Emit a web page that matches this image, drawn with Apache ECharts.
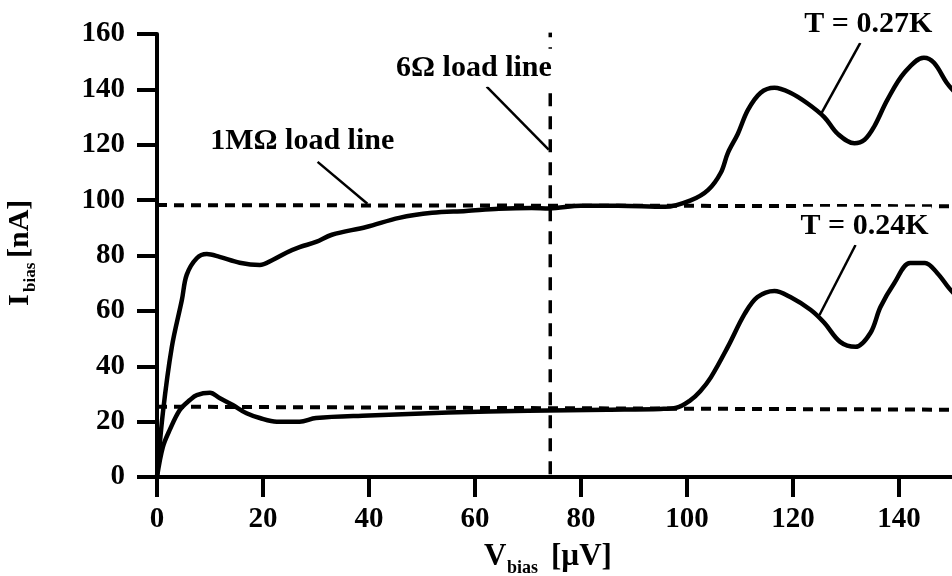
<!DOCTYPE html>
<html><head><meta charset="utf-8">
<script src="https://cdn.jsdelivr.net/npm/echarts@6/dist/echarts.min.js"></script>
<style>html,body{margin:0;padding:0;background:#fff}#c{width:952px;height:576px}</style>
</head><body><div id="c"></div>
<script>
// ---- data ----
const xTicks = [0, 20, 40, 60, 80, 100, 120, 140];
const yTicks = [0, 20, 40, 60, 80, 100, 120, 140, 160];

// T = 0.27K curve
const vHigh = [0, 1.1, 2.8, 4.7, 5.6, 7.5, 9.4, 11.8, 15.6, 19.4, 21.8, 24.4, 26.9, 30, 33, 39.5, 45.7, 51.9, 58.3, 64.5, 70.7, 74, 80, 87, 95.9, 100.8, 104, 106.4, 107.7, 109.6, 111.5, 113.9, 116.5, 119.5, 122.7, 125.9, 128.4, 131.6, 133.5, 135.3, 137.8, 141, 144.7, 146.6, 149, 150.5];
const iHigh = [0, 23, 47, 64, 73, 79, 80.5, 79.5, 77.4, 76.6, 78.4, 81, 83, 84.9, 87.5, 90.3, 93.6, 95.4, 96.1, 96.9, 97.2, 97, 98, 98, 97.6, 100, 103.7, 110, 117, 124, 132.6, 138.8, 140.6, 138.8, 135, 130, 124, 120.5, 121.8, 126.5, 136.2, 146, 151.4, 149.6, 142.4, 139];

// T = 0.24K curve
const vLow = [0, 1.1, 2.4, 4.3, 6.2, 7.5, 10, 11.8, 14.3, 16.9, 19.4, 22.6, 26.9, 30, 40, 55, 70, 85, 95, 98, 100.5, 102.5, 104.5, 107.7, 110.9, 113.3, 116.5, 119.5, 123.3, 125.9, 128.9, 131.8, 134.6, 136.5, 139.1, 142.1, 144.9, 147.2, 149.4, 150.5];
const iLow = [0, 10.8, 17, 24.2, 27.8, 29.6, 30.4, 28.5, 26, 23, 21.3, 20, 20, 21.3, 22.2, 23.3, 23.9, 24.3, 24.6, 25, 27.5, 31, 36, 47, 59, 65, 67.2, 65, 60.4, 55.7, 48.8, 47, 52, 61.4, 70, 77.3, 77.3, 73.7, 68.3, 66];

// load lines
const load1MV = [0, 150.5];
const load1MHigh = [98.2, 97.8];
const load1MLow = [25.4, 24.3];
const load6V = [74.2, 74.2];
const load6I = [1, 160.5];

// annotation texts
const annTexts = ['1MΩ load line', '6Ω load line', 'T = 0.27K', 'T = 0.24K'];

// ---- layout (data-space anchors for annotations) ----
const annAnchor = [[27.4, 121.1], [59.8, 147.8], [134.2, 163.7], [133.5, 90.7]];
const pointerFrom = [[30.3, 113.8], [62.2, 141], [132.7, 156.8], [131.8, 83.8]];
const pointerTo = [[39.7, 98.7], [73.9, 118.2], [125.4, 131.5], [125, 58.5]];

const FONT = '"Liberation Serif","Times New Roman",serif';
const zip = (a, b) => a.map((v, i) => [v, b[i]]);

const series = [
  {type: 'line', data: zip(load1MV, load1MHigh), symbol: 'none', z: 2,
   lineStyle: {color: '#000', width: 4, type: [10, 7]}},
  {type: 'line', data: zip(load1MV, load1MLow), symbol: 'none', z: 2,
   lineStyle: {color: '#000', width: 4, type: [10, 7]}},
  {type: 'line', data: zip(load6V, load6I), symbol: 'none', z: 2,
   lineStyle: {color: '#000', width: 3.5, type: [13, 10]}},
  {type: 'line', data: zip(vHigh, iHigh), symbol: 'none', z: 3, smooth: 0.35,
   lineStyle: {color: '#000', width: 4.5, join: 'round', cap: 'round'}},
  {type: 'line', data: zip(vLow, iLow), symbol: 'none', z: 3, smooth: 0.35,
   lineStyle: {color: '#000', width: 4.5, join: 'round', cap: 'round'}}
];
pointerFrom.forEach((p, i) => {
  series.push({type: 'line', data: [p, pointerTo[i]], symbol: 'none', z: 4,
    lineStyle: {color: '#000', width: 2.5}});
});

const labelStyle = {color: '#000', fontFamily: FONT, fontWeight: 'bold', fontSize: 29};

const option = {
  animation: false,
  backgroundColor: '#fff',
  grid: {left: 157, right: -3, top: 34, bottom: 99, containLabel: false},
  xAxis: {
    type: 'value', min: 0, max: 150, interval: 20,
    axisLine: {show: true, onZero: false, lineStyle: {color: '#000', width: 4}},
    axisTick: {show: true, length: 20, customValues: xTicks, lineStyle: {color: '#000', width: 4}},
    axisLabel: Object.assign({margin: 28, customValues: xTicks, hideOverlap: false}, labelStyle),
    splitLine: {show: false}
  },
  yAxis: {
    type: 'value', min: 0, max: 160, interval: 20,
    axisLine: {show: true, onZero: false, lineStyle: {color: '#000', width: 4}},
    axisTick: {show: true, length: 20, customValues: yTicks, lineStyle: {color: '#000', width: 4}},
    axisLabel: Object.assign({margin: 32, customValues: yTicks}, labelStyle),
    splitLine: {show: false}
  },
  series: series
};

const chart = echarts.init(document.getElementById('c'), null, {renderer: 'canvas'});
chart.setOption(option);

const bold = (size) => ({fontFamily: FONT, fontWeight: 'bold', fontSize: size, fill: '#000'});
const gfx = [
  // x-axis title: V_bias [µV]
  {type: 'text', x: 484, y: 557, z: 100, style: Object.assign({text: 'V', align: 'left', verticalAlign: 'middle'}, bold(31))},
  {type: 'text', x: 507, y: 568, z: 100, style: Object.assign({text: 'bias', align: 'left', verticalAlign: 'middle'}, bold(18))},
  {type: 'text', x: 551, y: 557, z: 100, style: Object.assign({text: '[µV]', align: 'left', verticalAlign: 'middle'}, bold(31))},
  // y-axis title: I_bias [nA]
  {type: 'text', x: 20, y: 306, rotation: Math.PI / 2, z: 100, style: Object.assign({text: 'I', align: 'left', verticalAlign: 'middle'}, bold(30))},
  {type: 'text', x: 31, y: 292, rotation: Math.PI / 2, z: 100, style: Object.assign({text: 'bias', align: 'left', verticalAlign: 'middle'}, bold(17))},
  {type: 'text', x: 20, y: 258, rotation: Math.PI / 2, z: 100, style: Object.assign({text: '[nA]', align: 'left', verticalAlign: 'middle'}, bold(30))}
];
annTexts.forEach((t, i) => {
  const p = chart.convertToPixel({xAxisIndex: 0, yAxisIndex: 0}, annAnchor[i]);
  gfx.push({type: 'text', x: p[0], y: p[1], z: 100,
    style: Object.assign({text: t, align: 'center', verticalAlign: 'middle',
      backgroundColor: '#fff', padding: [4, 3, 4, 3]}, bold(30))});
});
chart.setOption({graphic: gfx});
</script></body></html>
